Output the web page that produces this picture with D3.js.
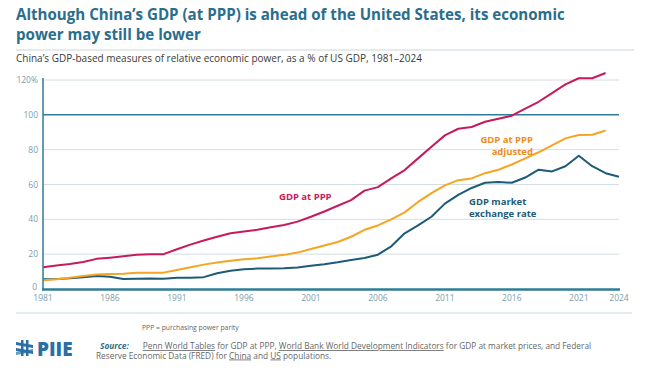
<!DOCTYPE html>
<html>
<head>
<meta charset="utf-8">
<script src="https://cdn.jsdelivr.net/npm/d3@7"></script>
<style>
  body { margin: 0; background: #fff; }
  svg { display: block; font-family: "Open Sans", sans-serif; }
</style>
</head>
<body>
<svg class="chart" width="650" height="373"></svg>
<script>
var years = [];
for (let y = 1981; y <= 2024; y++) years.push(y);

// China as % of US GDP
var gdpPpp = [12.5, 13.5, 14.4, 15.5, 17.3, 18, 18.8, 19.6, 20, 20,
  22.8, 25.5, 27.8, 30, 32, 33, 34, 35.5, 36.8, 38.7,
  41.5, 44.5, 47.8, 51, 56.5, 58.5, 63.5, 68.3, 75, 81.7,
  88.2, 92, 93, 96, 97.8, 99.5, 103.5, 107.5, 112.5, 117.5,
  121, 121, 124];
var gdpPppAdj = [5, 5.6, 6.5, 7.4, 8.3, 8.6, 8.8, 9.3, 9.4, 9.4,
  10.9, 12.5, 14, 15.2, 16.2, 17.1, 17.6, 18.6, 19.6, 20.9,
  23, 25, 27, 30, 34, 36.5, 40, 44, 50, 55,
  59.5, 62.5, 63.5, 66.5, 68.5, 71.5, 75, 78.5, 82.5, 86.5,
  88.4, 88.6, 91];
var gdpMarket = [5.6, 5.7, 6.1, 6.7, 7.5, 7, 5.7, 5.9, 6.1, 5.9,
  6.5, 6.5, 6.8, 9, 10.5, 11.3, 11.7, 11.7, 11.9, 12.4,
  13.4, 14.2, 15.3, 16.6, 17.8, 19.7, 24.5, 32, 36.5, 41.5,
  49, 54, 58, 61, 61.5, 61, 64, 68.5, 67.5, 70.5,
  76.5, 70.5, 66.5, 64.5];

var yTicks = [0, 20, 40, 60, 80, 100, 120];
var xTicks = [1981, 1986, 1991, 1996, 2001, 2006, 2011, 2016, 2021, 2024];

var svg = d3.select('.chart');

var xScale = d3.scaleLinear()
  .domain([1981, 2024])
  .range([43, 619]);

var yScale = d3.scaleLinear()
  .domain([0, 120])
  .range([289, 80]);

// title
svg.append('text')
  .attr('x', 16).attr('y', 20)
  .attr('font-size', 15.1).attr('font-weight', 700)
  .attr('fill', '#2b6d8c')
  .text("Although China\u2019s GDP (at PPP) is ahead of the United States, its economic");
svg.append('text')
  .attr('x', 16).attr('y', 40)
  .attr('font-size', 15.1).attr('font-weight', 700)
  .attr('fill', '#2b6d8c')
  .text('power may still be lower');

svg.append('line')
  .attr('x1', 16).attr('x2', 634).attr('y1', 50).attr('y2', 50)
  .attr('stroke', '#c9d6dd').attr('stroke-width', 1);

svg.append('text')
  .attr('x', 16).attr('y', 62)
  .attr('font-size', 10)
  .attr('fill', '#3a3a3a')
  .text('China\u2019s GDP-based measures of relative economic power, as a % of US GDP, 1981\u20132024');

// gridlines
svg.append('g')
  .selectAll('line')
  .data(yTicks.filter(function (d) { return d > 0; }))
  .join('line')
  .attr('x1', 43).attr('x2', 619)
  .attr('y1', function (d) { return yScale(d); })
  .attr('y2', function (d) { return yScale(d); })
  .attr('stroke', function (d) { return d == 100 ? '#2e7c98' : '#d3dee4'; })
  .attr('stroke-width', function (d) { return d == 100 ? 1.5 : 1; });

// y labels
svg.append('g')
  .selectAll('text')
  .data(yTicks)
  .join('text')
  .attr('x', function (d) { return d == 0 ? 37 : 38; })
  .attr('y', function (d) { return d == 0 ? yScale(d) + 1 : yScale(d) + 3; })
  .attr('text-anchor', 'end')
  .attr('font-size', 8.5)
  .attr('fill', '#7e9caa')
  .text(function (d) { return d == 120 ? '120%' : d; });

// x labels
svg.append('g')
  .selectAll('text')
  .data(xTicks)
  .join('text')
  .attr('x', function (d) { return xScale(d); })
  .attr('y', 301)
  .attr('text-anchor', 'middle')
  .attr('font-size', 8.5)
  .attr('fill', '#7e9caa')
  .text(function (d) { return d; });

// lines
var series = [
  { values: gdpMarket, color: '#1d5b76' },
  { values: gdpPppAdj, color: '#f6a422' },
  { values: gdpPpp, color: '#c61a5c' }
];

var lineGen = d3.line()
  .x(function (d, i) { return xScale(years[i]); })
  .y(function (d) { return yScale(d); });

svg.append('g')
  .selectAll('path')
  .data(series)
  .join('path')
  .attr('d', function (d) { return lineGen(d.values); })
  .attr('fill', 'none')
  .attr('stroke', function (d) { return d.color; })
  .attr('stroke-width', 2)
  .attr('stroke-linejoin', 'round');

// axes
svg.append('line')
  .attr('x1', 43).attr('x2', 43).attr('y1', 78).attr('y2', 290)
  .attr('stroke', '#2e7c98').attr('stroke-width', 1.5);
svg.append('line')
  .attr('x1', 42).attr('x2', 620).attr('y1', 289.5).attr('y2', 289.5)
  .attr('stroke', '#2e7c98').attr('stroke-width', 2.5);

// series labels
svg.append('text')
  .attr('x', 279).attr('y', 200)
  .attr('font-size', 9.5).attr('font-weight', 700)
  .attr('fill', '#c61a5c')
  .text('GDP at PPP');

svg.append('text')
  .attr('x', 533).attr('y', 143)
  .attr('text-anchor', 'end')
  .attr('font-size', 9.5).attr('font-weight', 700)
  .attr('fill', '#ec8c1e')
  .text('GDP at PPP');
svg.append('text')
  .attr('x', 533).attr('y', 154.5)
  .attr('text-anchor', 'end')
  .attr('font-size', 9.5).attr('font-weight', 700)
  .attr('fill', '#ec8c1e')
  .text('adjusted');

svg.append('text')
  .attr('x', 469).attr('y', 205)
  .attr('font-size', 9.5).attr('font-weight', 700)
  .attr('fill', '#1d5b76')
  .text('GDP market');
svg.append('text')
  .attr('x', 469).attr('y', 216.5)
  .attr('font-size', 9.5).attr('font-weight', 700)
  .attr('fill', '#1d5b76')
  .text('exchange rate');

// footer
svg.append('line')
  .attr('x1', 16).attr('x2', 632).attr('y1', 313).attr('y2', 313)
  .attr('stroke', '#c9d6dd').attr('stroke-width', 1);

svg.append('text')
  .attr('x', 142).attr('y', 330)
  .attr('font-size', 6.8)
  .attr('fill', '#666')
  .text('PPP = purchasing power parity');

var src = svg.append('text')
  .attr('font-size', 8.3)
  .attr('fill', '#666');
var l1 = src.append('tspan').attr('x', 100).attr('y', 349);
l1.append('tspan').attr('font-weight', 700).attr('font-style', 'italic').attr('fill', '#2b6d8c').text('Source:');
l1.append('tspan').attr('dx', 14).attr('text-decoration', 'underline').text('Penn World Tables');
l1.append('tspan').text(' for GDP at PPP, ');
l1.append('tspan').attr('text-decoration', 'underline').text('World Bank World Development Indicators');
l1.append('tspan').text(' for GDP at market prices, and Federal');
var l2 = src.append('tspan').attr('x', 96).attr('y', 358.5);
l2.append('tspan').text('Reserve Economic Data (FRED) for ');
l2.append('tspan').attr('text-decoration', 'underline').text('China');
l2.append('tspan').text(' and ');
l2.append('tspan').attr('text-decoration', 'underline').text('US');
l2.append('tspan').text(' populations.');

// PIIE logo
var logo = svg.append('g').attr('fill', '#2a6fa6');
logo.append('rect').attr('x', 21).attr('y', 340).attr('width', 2.5).attr('height', 16);
logo.append('rect').attr('x', 26).attr('y', 340).attr('width', 2.5).attr('height', 16);
logo.append('path').attr('d', 'M16,342 L33,345 L33,348 L16,345 Z');
logo.append('path').attr('d', 'M16,348 L33,351 L33,354 L16,351 Z');
logo.append('path').attr('d', 'M16,355 L33,352 L33,349 L16,352 Z').attr('opacity', 0.7);
logo.append('text')
  .attr('x', 37).attr('y', 356)
  .attr('font-size', 19).attr('font-weight', 800)
  .attr('font-family', '"Open Sans", sans-serif')
  .text('PIIE');
</script>
</body>
</html>
